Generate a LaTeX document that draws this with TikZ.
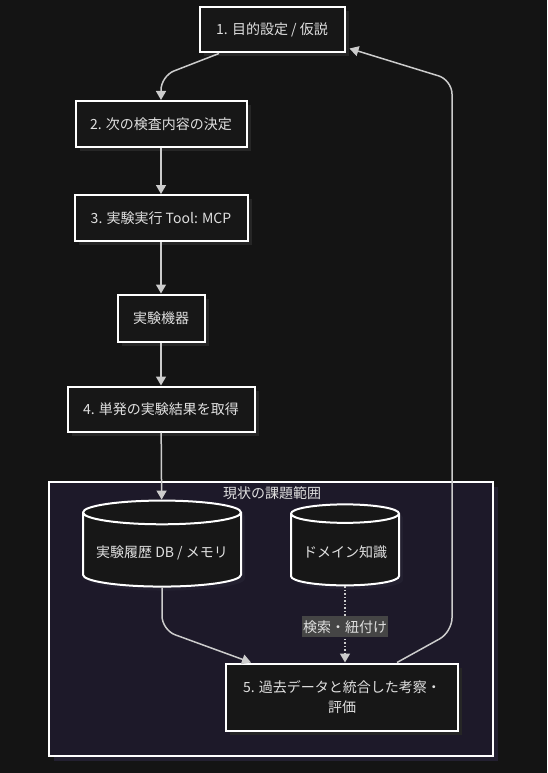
\documentclass[tikz,border=0pt]{standalone}
\usepackage{fontspec}
\setmainfont{Noto Sans CJK JP}
\usepackage{tikz}
\usetikzlibrary{arrows.meta,shapes.geometric,shadows}
\definecolor{bgdark}{HTML}{141414}
\definecolor{boxfill}{HTML}{171717}
\definecolor{shade}{HTML}{262626}
\definecolor{scopefill}{HTML}{1D1929}
\definecolor{scopeshade}{HTML}{232030}
\definecolor{linegray}{HTML}{CCCCCC}
\definecolor{txt}{HTML}{E0E0E0}
\definecolor{tagfill}{HTML}{454545}

\begin{document}
\begin{tikzpicture}[x=1pt,y=-1pt,font=\fontsize{14}{20}\selectfont,text=txt]
		\fill[bgdark] (0,0) rectangle (547,773);
		\useasboundingbox (0,0) rectangle (547,773);

		% area of the current problem
		\node[draw=white,line width=1.6pt,fill=scopefill,minimum width=444,minimum height=274,
		      drop shadow={fill=scopeshade,opacity=1,shadow xshift=5pt,shadow yshift=-5pt}] (scope) at (271,619) {};
		\node (scopetitle) at (272,493) {現状の課題範囲};

		\begin{scope}[every node/.style={rectangle,draw=white,line width=2pt,fill=boxfill,inner sep=0pt,align=center,
		              drop shadow={fill=shade,opacity=1,shadow xshift=4pt,shadow yshift=-4pt}}]
		    \node[minimum width=145,minimum height=45] (goal) at (272,30) {1. 目的設定 / 仮説};
		    \node[minimum width=171,minimum height=46] (plan) at (161,124) {2. 次の検査内容の決定};
		    \node[minimum width=173,minimum height=46] (run) at (161,218) {3. 実験実行 Tool: MCP};
		    \node[minimum width=87,minimum height=47] (device) at (161,318) {実験機器};
		    \node[minimum width=187,minimum height=45] (result) at (161,409) {4. 単発の実験結果を取得};
		    \node[minimum width=232,minimum height=67] (review) at (342,697) {5. 過去データと統合した考察・\\評価};
		\end{scope}

		\begin{scope}[every node/.style={cylinder,shape border rotate=90,draw=white,line width=2pt,fill=boxfill,inner sep=0pt,
		              drop shadow={fill=scopeshade,opacity=1,shadow xshift=4pt,shadow yshift=-4pt}}]
		    \node[minimum width=158,minimum height=86,aspect=0.18] (history) at (162,550) {\raisebox{-7pt}[0pt][0pt]{実験履歴 DB / メモリ}};
		    \node[minimum width=108,minimum height=81,aspect=0.22] (domain) at (345,550) {\raisebox{-7pt}[0pt][0pt]{ドメイン知識}};
		\end{scope}

		\begin{scope}[>={Triangle[length=9pt,width=10pt]},
		              every edge/.style={draw=linegray,line width=1.5pt}]
		    \path[->] (plan) edge (run);
		    \path[->] (run) edge (device);
		    \path[->] (device) edge (result);
		    \path[->] (result) edge (history);
		    \draw[->,linegray,line width=1.5pt,rounded corners=14pt] ([xshift=-53pt]goal.south) -- (161,76) -- (plan.north);
		    \draw[->,linegray,line width=1.5pt,rounded corners=14pt] (history.south) -- (162,630) -- ([xshift=-91pt]review.north);
		    \draw[->,linegray,line width=1.5pt,rounded corners=14pt] ([xshift=55pt]review.north) -- (452,632) -- (452,80) -- ([xshift=4pt,yshift=5pt]goal.south east);
		    \path[->] (domain) edge[dotted] node[pos=0.53,fill=tagfill,inner xsep=1pt,inner ysep=4pt] {検索・紐付け} (review.north -| domain);
		\end{scope}
\end{tikzpicture}
\end{document}
